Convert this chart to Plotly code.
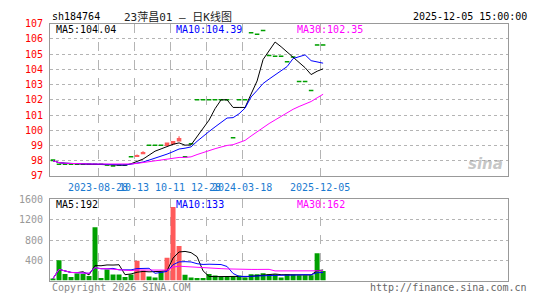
import plotly.graph_objects as go
import pandas as pd

# ---------------- data ----------------
opens = [98.05, 97.77, 97.77, 97.77, 97.77, 97.77, 97.77, 97.77, 97.77, 97.72,
         97.67, 97.72, 97.72, 98.27, 98.28, 98.46, 99.02, 99.02, 99.02, 99.0,
         99.1, 99.3, 98.27, 99.12, 102.02, 102.02, 102.02, 102.02, 102.02, 102.02,
         99.52, 102.02, 102.02, 106.42, 106.32, 106.57, 104.92, 104.87, 104.87, 104.52,
         104.82, 103.22, 103.22, 102.62, 105.62, 105.62]
highs = [98.05, 97.77, 97.77, 97.77, 97.77, 97.77, 97.77, 97.77, 97.77, 97.72,
         97.67, 97.72, 97.72, 98.27, 98.4, 98.62, 99.02, 99.02, 99.02, 99.18,
         99.3, 99.6, 98.27, 99.12, 102.02, 102.02, 102.02, 102.02, 102.02, 102.02,
         99.52, 102.02, 102.02, 106.42, 106.32, 106.57, 104.92, 104.87, 104.87, 104.52,
         104.82, 103.22, 103.22, 102.62, 105.62, 105.62]
lows = [98.0, 97.75, 97.75, 97.75, 97.75, 97.75, 97.75, 97.75, 97.75, 97.7,
        97.65, 97.7, 97.7, 98.25, 98.25, 98.42, 99.0, 99.0, 99.0, 99.0,
        99.1, 99.3, 98.25, 99.1, 102.0, 102.0, 102.0, 102.0, 102.0, 102.0,
        99.5, 102.0, 102.0, 106.4, 106.3, 106.55, 104.9, 104.85, 104.85, 104.5,
        104.8, 103.2, 103.2, 102.6, 105.6, 105.6]
closes = [98.0, 97.75, 97.75, 97.75, 97.75, 97.75, 97.75, 97.75, 97.75, 97.7,
          97.65, 97.7, 97.7, 98.25, 98.34, 98.54, 99.0, 99.0, 99.0, 99.15,
          99.25, 99.45, 98.25, 99.1, 102.0, 102.0, 102.0, 102.0, 102.0, 102.0,
          99.5, 102.0, 102.0, 106.4, 106.3, 106.55, 104.9, 104.85, 104.85, 104.5,
          104.8, 103.2, 103.2, 102.6, 105.6, 105.6]
volumes = [40, 400, 130, 70, 140, 130, 90, 1050, 50, 220,
           120, 120, 70, 120, 390, 200, 80, 60, 180, 450,
           1450, 680, 115, 60, 50, 50, 130, 100, 70, 70,
           70, 100, 60, 125, 125, 145, 125, 125, 60, 125,
           115, 105, 105, 105, 540, 190]

tick_index = [8, 14, 20, 26, 32, 45]
tick_labels = ["2023-08-28", "10-13", "10-11", "12-28", "2024-03-18", "2025-12-05"]

price_ticks = list(range(97, 108))
volume_ticks = [400, 800, 1200, 1600]

code = "sh184764"
title = "23萍昌01 – 日K线图"
stamp = "2025-12-05 15:00:00"
price_ma_text = ["MA5:104.04", "MA10:104.39", "MA30:102.35"]
vol_ma_text = ["MA5:192", "MA10:133", "MA30:162"]

# ---------------- derived ----------------
n = len(closes)
xs = list(range(n))
RED = "#ff5a5a"
GREEN = "#00a000"
MA_COLORS = ["#000000", "#0000ff", "#ff00ff"]
MONO = "DejaVu Sans Mono"

cs = pd.Series(closes)
vs = pd.Series(volumes)
ma_p = [cs.rolling(w, min_periods=1).mean() for w in (5, 10, 30)]
ma_v = [vs.rolling(w, min_periods=1).mean() for w in (5, 10, 30)]

up = [i for i in xs if closes[i] > opens[i]]
down = [i for i in xs if closes[i] <= opens[i]]

fig = go.Figure()

for idxs, col in ((down, GREEN), (up, RED)):
    fig.add_trace(go.Candlestick(
        x=[xs[i] for i in idxs],
        open=[opens[i] for i in idxs], high=[highs[i] for i in idxs],
        low=[lows[i] for i in idxs], close=[closes[i] for i in idxs],
        increasing=dict(line=dict(color=col, width=1.2), fillcolor=col),
        decreasing=dict(line=dict(color=col, width=1.2), fillcolor=col),
        whiskerwidth=0, showlegend=False, hoverinfo="skip",
        xaxis="x", yaxis="y"))

for s, col in zip(ma_p, MA_COLORS):
    fig.add_trace(go.Scatter(x=xs, y=s, mode="lines", line=dict(color=col, width=1),
                             showlegend=False, hoverinfo="skip", xaxis="x", yaxis="y"))

vcolors = [RED if closes[i] > opens[i] else GREEN for i in xs]
fig.add_trace(go.Bar(x=xs, y=volumes, marker=dict(color=vcolors, line=dict(width=0)),
                     showlegend=False, hoverinfo="skip", xaxis="x2", yaxis="y2"))
for s, col in zip(ma_v, MA_COLORS):
    fig.add_trace(go.Scatter(x=xs, y=s, mode="lines", line=dict(color=col, width=1),
                             showlegend=False, hoverinfo="skip", xaxis="x2", yaxis="y2"))

W, H = 545, 300
def px(x):
    return x / W
def py(y):
    return 1 - y / H

xdom = [px(50), px(508)]
xr = [-0.5, 75.8]
tickvals = [i - 0.5 for i in tick_index]

common_x = dict(domain=xdom, range=xr, tickmode="array", tickvals=tickvals,
                showgrid=True, gridcolor="#b4b4b4", griddash="dash", gridwidth=1,
                showline=True, mirror=True, linecolor="#999999", linewidth=1,
                zeroline=False, ticks="", fixedrange=True)

fig.update_layout(
    width=W, height=H, margin=dict(l=0, r=0, t=0, b=0),
    paper_bgcolor="white", plot_bgcolor="white",
    bargap=0.17, boxgap=0.2,
    xaxis=dict(**common_x, anchor="y", ticktext=tick_labels, tickangle=0,
               tickfont=dict(family=MONO, size=10, color="#1a7ad0"),
               rangeslider=dict(visible=False), ticklabelstandoff=2),
    xaxis2=dict(**common_x, anchor="y2", showticklabels=False),
    yaxis=dict(domain=[py(177), py(18.5)], range=[97, 107], tickmode="array",
               tickvals=price_ticks, ticktext=[str(v) for v in price_ticks],
               tickfont=dict(family=MONO, size=10, color="#ff0000"),
               showgrid=True, gridcolor="#b4b4b4", griddash="dot",
               showline=True, mirror=True, linecolor="#999999", zeroline=False,
               ticks="", ticklabelstandoff=4, anchor="x"),
    yaxis2=dict(domain=[py(286), py(201.5)], range=[0, 1600], tickmode="array",
                tickvals=volume_ticks, ticktext=[str(v) for v in volume_ticks],
                tickfont=dict(family=MONO, size=10, color="#999999"),
                showgrid=True, gridcolor="#b4b4b4", griddash="dot",
                showline=True, mirror=True, linecolor="#999999", zeroline=False,
                ticks="", ticklabelstandoff=4, anchor="x2"),
)

ann = []
def text(t, x, y, color="#000000", anchor="left", family=MONO, size=10):
    ann.append(dict(text=t, x=px(x), y=py(y), xref="paper", yref="paper",
                    xanchor=anchor, yanchor="middle", showarrow=False,
                    font=dict(family=family, size=size, color=color)))

text(code, 50, 11)
text(title, 122, 11, family="DejaVu Sans Mono, Noto Sans CJK SC", size=11, color="#222222")
text(stamp, 529, 11, anchor="right")
for t, x, col in zip(price_ma_text, (54, 174, 295), MA_COLORS):
    text(t, x, 24, color=col)
for t, x, col in zip(vol_ma_text, (54, 174, 295), MA_COLORS):
    text(t, x, 207, color=col)
text("Copyright 2026 SINA.COM", 50, 293, color="#888888")
text("http://finance.sina.com.cn", 529, 293, color="#666666", anchor="right")
ann.append(dict(text="<b><i>sina</i></b>", x=px(505), y=py(165), xref="paper", yref="paper",
                xanchor="right", yanchor="middle", showarrow=False,
                font=dict(family="DejaVu Sans", size=15, color="rgba(150,150,150,0.55)")))
fig.update_layout(annotations=ann)

fig.write_html("out.html")
